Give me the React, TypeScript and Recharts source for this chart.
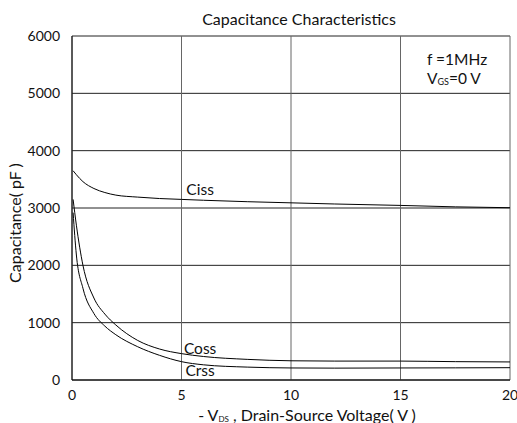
import React from "react";
import {
  LineChart,
  Line,
  XAxis,
  YAxis,
  CartesianGrid,
  ReferenceDot,
} from "recharts";

// drain-source voltage (V) and capacitances (pF)
const voltage = [0.05, 0.2, 0.5, 1, 1.5, 2, 3, 4, 5, 6, 8, 10, 12, 15, 17.5, 20];
const ciss = [3650, 3580, 3460, 3340, 3270, 3225, 3190, 3165, 3150, 3135, 3110, 3090, 3070, 3045, 3020, 3005];
const coss = [3150, 2700, 2000, 1430, 1150, 960, 690, 540, 460, 410, 360, 335, 330, 330, 320, 315];
const crss = [2920, 2180, 1600, 1160, 940, 790, 580, 430, 320, 265, 225, 210, 207, 210, 212, 215];

const xTicks = [0, 5, 10, 15, 20];
const yTicks = [0, 1000, 2000, 3000, 4000, 5000, 6000];

const data = voltage.map((v, i) => ({ v, ciss: ciss[i], coss: coss[i], crss: crss[i] }));

const FONT = "Lato, 'Open Sans', sans-serif";
const tickStyle = { fill: "#111", fontSize: 14, fontFamily: FONT };
const curveLabel = { fill: "#111", fontSize: 15.5, fontFamily: FONT };

export default function App() {
  return (
    <div style={{ position: "absolute", left: 0, top: 0, width: 517, height: 423, background: "#fff", fontFamily: FONT }}>
      <LineChart
        width={517}
        height={423}
        data={data}
        margin={{ top: 36, right: 7, bottom: 18, left: 30 }}
      >
        <CartesianGrid stroke="#222" strokeWidth={1} vertical={false} />
        <CartesianGrid stroke="#666" strokeWidth={1} horizontal={false} />
        <XAxis
          dataKey="v"
          type="number"
          domain={[0, 20]}
          ticks={xTicks}
          tickLine={false}
          axisLine={{ stroke: "#000" }}
          tick={tickStyle}
          height={25}
          tickMargin={4}
        />
        <YAxis
          type="number"
          domain={[0, 6000]}
          ticks={yTicks}
          tickLine={false}
          axisLine={{ stroke: "#000" }}
          tick={tickStyle}
          width={42}
          tickMargin={6}
        />
        <Line type="monotone" dataKey="ciss" stroke="#000" strokeWidth={1} dot={false} isAnimationActive={false} />
        <Line type="monotone" dataKey="coss" stroke="#000" strokeWidth={1} dot={false} isAnimationActive={false} />
        <Line type="monotone" dataKey="crss" stroke="#000" strokeWidth={1} dot={false} isAnimationActive={false} />
        <ReferenceDot x={5.85} y={3315} r={0} fill="none" stroke="none" ifOverflow="visible"
          label={{ value: "Ciss", position: "center", style: curveLabel }} />
        <ReferenceDot x={5.85} y={558} r={0} fill="none" stroke="none" ifOverflow="visible"
          label={{ value: "Coss", position: "center", style: curveLabel }} />
        <ReferenceDot x={5.85} y={174} r={0} fill="none" stroke="none" ifOverflow="visible"
          label={{ value: "Crss", position: "center", style: curveLabel }} />
      </LineChart>
      <div style={{ position: "absolute", left: 99, width: 400, top: 9, textAlign: "center", fontSize: 16, lineHeight: "20px", color: "#111" }}>
        Capacitance Characteristics
      </div>
      <div style={{ position: "absolute", left: 427, top: 50, fontSize: 15.5, color: "#111", lineHeight: "19px" }}>
        <div>f =1MHz</div>
        <div>
          V<sub style={{ fontSize: 9, verticalAlign: "-1px" }}>GS</sub>=0 V
        </div>
      </div>
      <div
        style={{
          position: "absolute",
          left: 15 - 100,
          top: 223 - 10,
          width: 200,
          height: 20,
          lineHeight: "20px",
          textAlign: "center",
          fontSize: 16,
          color: "#111",
          transform: "rotate(-90deg)",
        }}
      >
        Capacitance( pF )
      </div>
      <div style={{ position: "absolute", left: 107, width: 400, top: 407, height: 15, textAlign: "center", fontSize: 16, color: "#111", lineHeight: "15px", whiteSpace: "nowrap" }}>
        - V<sub style={{ fontSize: 8, verticalAlign: "-1px", lineHeight: 0 }}>DS</sub> , Drain-Source Voltage( V )
      </div>
    </div>
  );
}
